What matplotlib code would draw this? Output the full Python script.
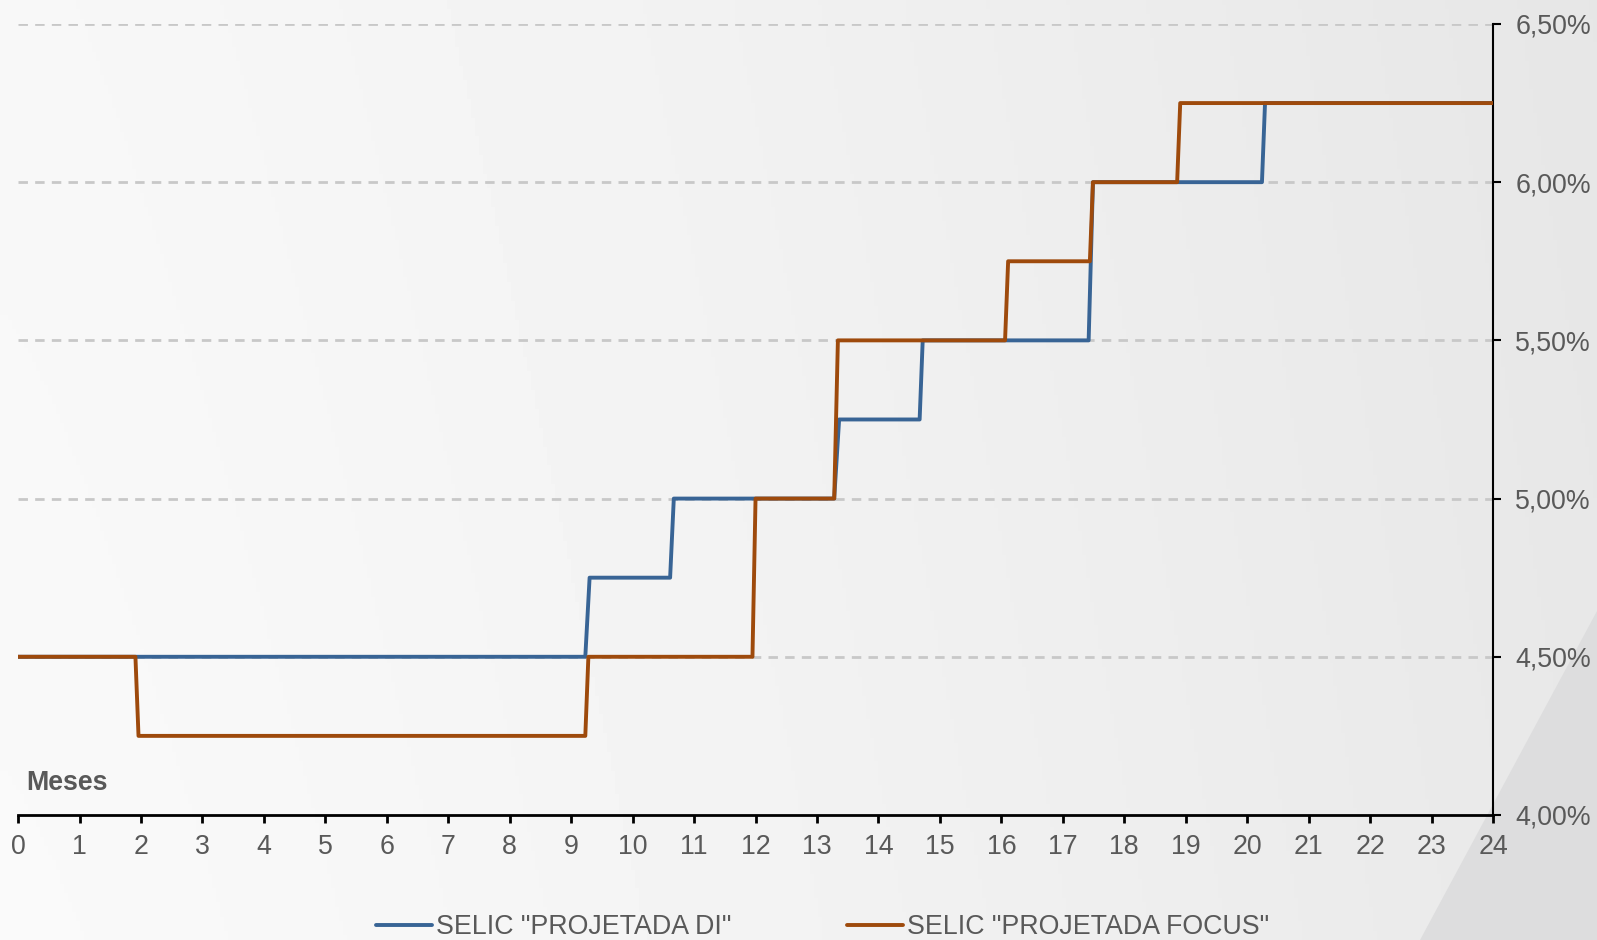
import numpy as np
import matplotlib
matplotlib.use("Agg")
import matplotlib.pyplot as plt
from matplotlib.ticker import FuncFormatter, MultipleLocator
from matplotlib.patches import Polygon

plt.rcParams['font.family'] = ['Liberation Sans', 'DejaVu Sans']

# meses e taxa (%) nos cantos dos degraus
di_meses = [0, 9.23, 9.30, 10.61, 10.67, 13.28, 13.36, 14.67, 14.72, 17.42, 17.49, 20.24, 20.29, 24]
di_taxa = [4.50, 4.50, 4.75, 4.75, 5.00, 5.00, 5.25, 5.25, 5.50, 5.50, 6.00, 6.00, 6.25, 6.25]

focus_meses = [0, 1.91, 1.96, 9.23, 9.28, 11.95, 12.00, 13.28, 13.34, 16.06, 16.11, 17.44, 17.49, 18.86, 18.91, 24]
focus_taxa = [4.50, 4.50, 4.25, 4.25, 4.50, 4.50, 5.00, 5.00, 5.50, 5.50, 5.75, 5.75, 6.00, 6.00, 6.25, 6.25]

yticks = [4.0, 4.5, 5.0, 5.5, 6.0, 6.5]
grid_levels = [4.5, 5.0, 5.5, 6.0, 6.5]

azul = '#386495'
laranja = '#9E4A0C'
cinza_txt = '#595959'
fs = 19.3

fig = plt.figure(figsize=(15.97, 9.40), dpi=100)

# fundo em degrade
bg = fig.add_axes([0, 0, 1, 1], zorder=-10)
gx = np.linspace(0, 1, 400)
gy = np.linspace(0, 1, 200)
GX, GY = np.meshgrid(gx, gy)
grad = 0.978 - 0.068 * GX ** 1.3 - 0.008 * GY
bg.imshow(grad, cmap='gray', vmin=0, vmax=1, extent=[0, 1, 0, 1], aspect='auto', origin='lower')
bg.add_patch(Polygon([[1.0, 0.35], [1.0, 0.0], [0.889, 0.0]], closed=True,
                     facecolor='#dcdcdd', edgecolor='none', alpha=0.9))
bg.set_xlim(0, 1)
bg.set_ylim(0, 1)
bg.axis('off')

ax = fig.add_axes([0.0113, 0.133, 0.9236, 0.8415])
ax.patch.set_alpha(0)

for g in grid_levels:
    ax.axhline(g, color='#c8c8c8', lw=2.0, linestyle=(0, (3.4, 2.6)), zorder=1)

ax.plot(di_meses, di_taxa, color=azul, lw=2.8, solid_joinstyle='round',
        solid_capstyle='round', label='SELIC "PROJETADA DI"', zorder=3)
ax.plot(focus_meses, focus_taxa, color=laranja, lw=2.8, solid_joinstyle='round',
        solid_capstyle='round', label='SELIC "PROJETADA FOCUS"', zorder=4)

ax.set_xlim(0, 24)
ax.set_ylim(4.0, 6.5)
ax.xaxis.set_major_locator(MultipleLocator(1))
ax.set_yticks(yticks)
ax.yaxis.set_major_formatter(FuncFormatter(lambda v, p: f"{v:.2f}".replace('.', ',') + '%'))

ax.yaxis.tick_right()
for s in ['top', 'left']:
    ax.spines[s].set_visible(False)
ax.spines['bottom'].set_linewidth(2.0)
ax.spines['right'].set_linewidth(1.5)
ax.tick_params(axis='x', direction='out', length=6, width=2.0, pad=8,
               labelsize=fs, labelcolor=cinza_txt)
ax.tick_params(axis='y', direction='out', length=6, width=1.5, pad=10,
               labelsize=fs, labelcolor=cinza_txt)

ax.text(0.0055, 0.024, 'Meses', transform=ax.transAxes, fontsize=fs,
        fontweight='bold', color=cinza_txt, va='bottom', ha='left')

fig.legend(loc='center', bbox_to_anchor=(0.515, 0.0138), ncol=2, frameon=False,
           fontsize=fs, handlelength=2.1, handletextpad=0.15, columnspacing=4.3,
           labelcolor=cinza_txt)

fig.savefig('out.png', dpi=100)
